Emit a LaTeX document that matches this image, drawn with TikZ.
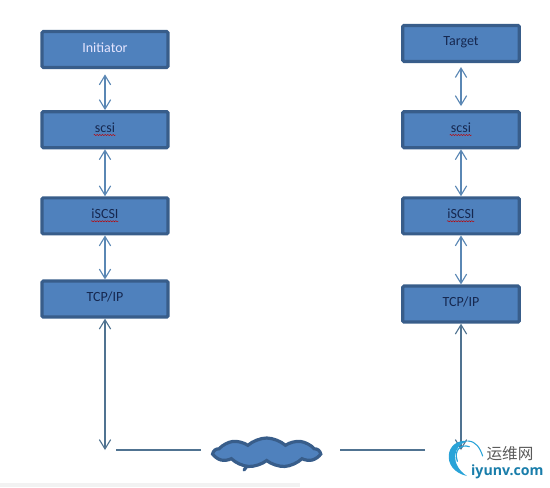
\documentclass[tikz,border=0pt]{standalone}
\usepackage{fontspec}
\setmainfont{Carlito}
\newfontfamily\cjk{Noto Sans CJK SC}
\newfontfamily\markfont{Open Sans}
\usepackage{xcolor}
\usetikzlibrary{positioning,arrows.meta,calc,shapes.symbols,decorations.pathmorphing}
\definecolor{boxfill}{RGB}{79,129,189}
\definecolor{boxline}{RGB}{56,93,138}
\definecolor{linkc}{RGB}{90,135,180}
\definecolor{wirec}{RGB}{80,115,145}
\definecolor{labelc}{RGB}{22,40,80}
\definecolor{logoc}{RGB}{41,163,216}
\definecolor{logot}{RGB}{25,125,170}

\begin{document}
\begin{tikzpicture}[font=\fontsize{10.5}{12}\selectfont,>={Straight Barb[length=7pt,width=8.5pt]},
  layer/.style={draw=boxline,line width=2.4pt,fill=boxfill,rounded corners=1pt,minimum width=94.5pt,minimum height=27pt,text=labelc,inner sep=0pt,text depth=3pt,align=center},
  rlayer/.style={layer,minimum width=87.5pt},
  link/.style={<->,draw=linkc,line width=.85pt},
  wire/.style={draw=wirec,line width=.8pt},
  wavy/.style={draw=red!75!black,line width=.35pt,decorate,decoration={snake,amplitude=.4pt,segment length=2pt}},
  logoarc/.style={draw=logoc,line cap=round}]
  \useasboundingbox (0,0) rectangle (412.5pt,-365.25pt);
  \fill[black!5] (0,-362.5pt) rectangle (225pt,-365.25pt);
  % left stack
  \node[layer,text=white!90!blue] (init) at (78.75pt,-37.1pt) {Initiator};
  \node[layer,below=30.75pt of init] (scsii) {scsi};
  \node[layer,below=35.25pt of scsii] (iscsii) {iSCSI};
  \node[layer,below=33pt of iscsii] (tcpi) {TCP/IP};
  % right stack
  \node[rlayer] (targ) at (345.75pt,-32.6pt) {Target};
  \node[rlayer,below=35.25pt of targ] (scsit) {scsi};
  \node[rlayer,below=35.25pt of scsit] (iscsit) {iSCSI};
  \node[rlayer,below=36.75pt of iscsit] (tcpt) {TCP/IP};
  % network
  \node[cloud,cloud puffs=9,cloud puff arc=85,aspect=3.4,draw=boxline,line width=2.4pt,fill=boxfill,minimum width=79pt,minimum height=22pt,inner sep=0pt] (net) at (200pt,-339.5pt) {};
  \coordinate (linka) at (87pt,-337.5pt);
  \coordinate (linkb) at (318.75pt,-337.5pt);
  \draw[boxline,line width=2.4pt,line cap=round] ([xshift=-17pt,yshift=-13pt]net.center)--([xshift=-15pt,yshift=-10.5pt]net.center);
  \draw[link,shorten <=4pt] (init)--(scsii);
  \draw[link] (scsii)--(iscsii);
  \draw[link] (iscsii)--(tcpi);
  \draw[link,shorten <=3pt,shorten >=3pt] (targ)--(scsit);
  \draw[link] (scsit)--(iscsit);
  \draw[link] (iscsit)--(tcpt);
  \draw[link,draw=wirec] (tcpi)--(tcpi.south |- linka);
  \draw[link,draw=wirec] (tcpt)--(tcpt.south |- linkb);
  \draw[wire,shorten >=7.5pt] (linka)--(linka -| net.west);
  \draw[wire,shorten >=13.5pt] (linkb)--(linkb -| net.east);
  % spell check marks
  \draw[wavy] ([xshift=-8.5pt,yshift=-4pt]scsii.center)--([xshift=8pt,yshift=-4pt]scsii.center);
  \draw[wavy] ([xshift=-10.5pt,yshift=-4pt]iscsii.center)--([xshift=10pt,yshift=-4pt]iscsii.center);
  \draw[wavy] ([xshift=-8.5pt,yshift=-4pt]scsit.center)--([xshift=8pt,yshift=-4pt]scsit.center);
  \draw[wavy] ([xshift=-10.5pt,yshift=-4pt]iscsit.center)--([xshift=10pt,yshift=-4pt]iscsit.center);
  % watermark
  \fill[logoc] (350.25pt,-357pt) .. controls (330pt,-352.5pt) and (333.75pt,-328.5pt) .. (351pt,-330.75pt) .. controls (339pt,-333.75pt) and (337.5pt,-348.75pt) .. cycle;
  \draw[logoarc,line width=.8pt] (351pt,-330.75pt) .. controls (357pt,-331pt) and (360pt,-336pt) .. (362pt,-342pt);
  \draw[logoarc,line width=.9pt] (343pt,-346pt) .. controls (340pt,-337pt) and (346pt,-333pt) .. (352pt,-335pt);
  \node[font=\cjk\fontsize{11.7}{13}\selectfont,text=black!65,inner sep=0pt] (logocn) at (382.5pt,-340.5pt) {运维网};
  \node[font=\markfont\bfseries\fontsize{10.6}{12}\selectfont,text=logot,inner sep=0pt] (logoen) at (380.5pt,-353.5pt) {iyunv.com};
\end{tikzpicture}
\end{document}
